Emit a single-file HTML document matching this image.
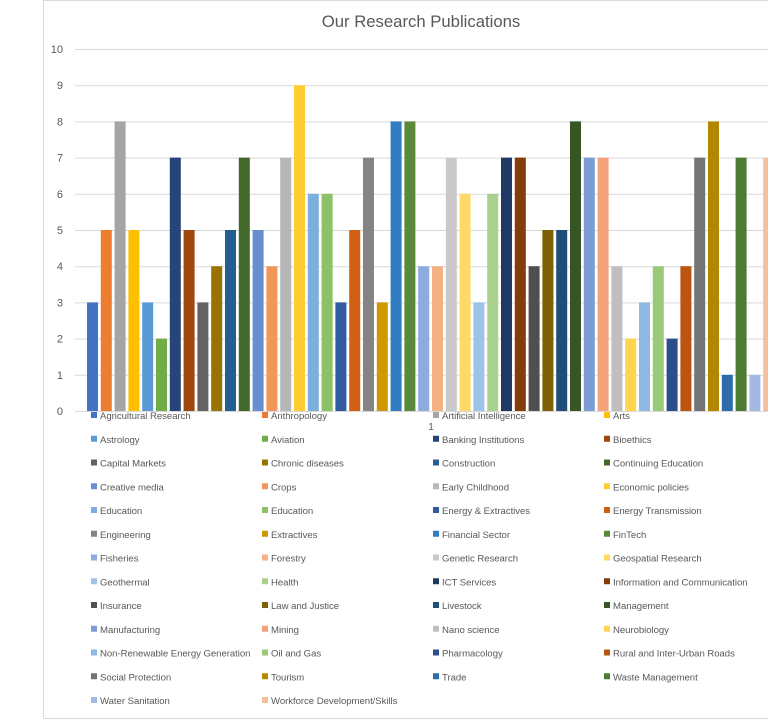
<!DOCTYPE html>
<html><head><meta charset="utf-8"><style>
body{margin:0;background:#fff;}
svg{display:block;font-family:"Liberation Sans",sans-serif;}
</style></head><body>
<svg id="c" width="768" height="720">
<rect x="43.5" y="0.5" width="740" height="718" fill="#fff" stroke="#d9d9d9"/>
<text x="421" y="27" text-anchor="middle" font-size="16.7" fill="#595959">Our Research Publications</text>
<g id="grid"></g><g id="bars"></g><g id="legend"></g>
<text x="431" y="430" text-anchor="middle" font-size="10" fill="#595959">1</text>
</svg>
<script>
const categories=["Agricultural Research","Anthropology","Artificial Intelligence","Arts","Astrology","Aviation","Banking Institutions","Bioethics","Capital Markets","Chronic diseases","Construction","Continuing Education","Creative media","Crops","Early Childhood","Economic policies","Education","Education","Energy & Extractives","Energy Transmission","Engineering","Extractives","Financial Sector","FinTech","Fisheries","Forestry","Genetic Research","Geospatial Research","Geothermal","Health","ICT Services","Information and Communication","Insurance","Law and Justice","Livestock","Management","Manufacturing","Mining","Nano science","Neurobiology","Non-Renewable Energy Generation","Oil and Gas","Pharmacology","Rural and Inter-Urban Roads","Social Protection","Tourism","Trade","Waste Management","Water Sanitation","Workforce Development/Skills"];
const values=[3,5,8,5,3,2,7,5,3,4,5,7,5,4,7,9,6,6,3,5,7,3,8,8,4,4,7,6,3,6,7,7,4,5,5,8,7,7,4,2,3,4,2,4,7,8,1,7,1,7];
const yTicks=[0,1,2,3,4,5,6,7,8,9,10];
const colors=["#4472C4","#ED7D31","#A5A5A5","#FFC000","#5B9BD5","#70AD47","#264478","#9E480E","#636363","#997300","#255E91","#43682B","#698ED0","#F1975A","#B7B7B7","#FFCD33","#7CAFDD","#8CC168","#335AA1","#D26012","#848484","#CC9A00","#327DC2","#5A8A39","#8FAADC","#F4B183","#C9C9C9","#FFD966","#9DC3E6","#A9D18E","#203864","#843C0B","#4F4F4F","#7F6000","#1F4E79","#375623","#7C9CD6","#F4A27A","#BFBFBF","#FFD54F","#8DB9E2","#9BC97A","#2C4E8C","#BA5410","#747474","#B38800","#2C6DA9","#4F7A32","#A2B9E3","#F5C0A0"];
const NS="http://www.w3.org/2000/svg";
const y0=411,yTop=49,yMax=10;
const yScale=v=>y0-(v/yMax)*(y0-yTop);
const xStart=87,step=13.8,bw=11;
const xScale=i=>xStart+i*step;
const grid=document.getElementById('grid');
yTicks.forEach(t=>{
 const l=document.createElementNS(NS,'line');
 l.setAttribute('x1',75);l.setAttribute('x2',768);
 l.setAttribute('y1',yScale(t)+0.5);l.setAttribute('y2',yScale(t)+0.5);
 l.setAttribute('stroke','#d9d9d9');
 
 
 grid.appendChild(l);
 const tx=document.createElementNS(NS,'text');
 tx.setAttribute('x',63);tx.setAttribute('y',yScale(t)+4);
 tx.setAttribute('text-anchor','end');tx.setAttribute('font-size','11');tx.setAttribute('fill','#595959');
 tx.textContent=t;
 
 
 grid.appendChild(tx);
});
const bars=document.getElementById('bars');
values.forEach((v,i)=>{
 const r=document.createElementNS(NS,'rect');
 r.setAttribute('x',xScale(i));r.setAttribute('y',yScale(v));
 r.setAttribute('width',bw);r.setAttribute('height',y0-yScale(v));
 r.setAttribute('fill',colors[i]);
 
 
 bars.appendChild(r);
});
const lg=document.getElementById('legend');
const colX=[91,262,433,604];
categories.forEach((c,i)=>{
 const row=Math.floor(i/4),col=i%4;
 const yy=415+row*23.75;
 const g=document.createElementNS(NS,'g');
 
 
 const m=document.createElementNS(NS,'rect');
 m.setAttribute('x',colX[col]);m.setAttribute('y',yy-3);m.setAttribute('width',6);m.setAttribute('height',6);
 m.setAttribute('fill',colors[i]);
 g.appendChild(m);
 const t=document.createElementNS(NS,'text');
 t.setAttribute('x',colX[col]+9);t.setAttribute('y',yy+4);
 t.setAttribute('font-size','9.6');t.setAttribute('fill','#595959');
 t.setAttribute('letter-spacing','-0.05');
 t.textContent=c;
 g.appendChild(t);
 lg.appendChild(g);
});
</script>
</body></html>
